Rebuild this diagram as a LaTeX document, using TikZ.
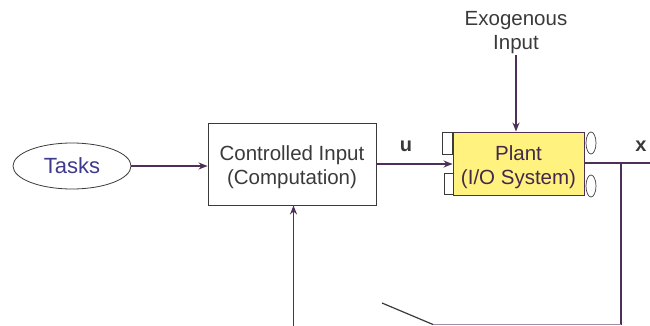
\documentclass[tikz,border=0pt]{standalone}
\usepackage{fontspec}
\setmainfont{Liberation Sans}
\usetikzlibrary{shapes.geometric,arrows.meta}
\definecolor{wire}{HTML}{4E2F58}
\definecolor{frame}{HTML}{3A3A3A}
\definecolor{txt}{HTML}{3A3A3A}
\definecolor{taskblue}{HTML}{3E3A8E}
\definecolor{plantfill}{HTML}{FFF27E}
\definecolor{pale}{HTML}{A08CA8}
\tikzset{
  sig/.style={draw=wire, line width=1.4pt, -{Stealth[length=9pt,width=7pt]}},
  line/.style={draw=wire, line width=1.4pt},
  blockbox/.style={draw=frame, line width=0.9pt, align=center, font=\fontsize{20.5}{24}\selectfont, text=txt, inner sep=0pt},
  port/.style={draw=frame, line width=0.7pt, fill=white, inner sep=0pt},
  lbl/.style={font=\fontsize{20.5}{24}\selectfont, text=txt, align=center, inner sep=0pt},
}
\begin{document}
\begin{tikzpicture}[x=1pt,y=-1pt]
\useasboundingbox (0,0) rectangle (650,326);

% blocks
\node[draw=frame, line width=0.8pt, ellipse, minimum width=118pt, minimum height=46pt, inner sep=0pt,
      font=\fontsize{22}{24}\selectfont, text=taskblue] (tasks) at (72,166) {Tasks};
\node[blockbox, minimum width=168pt, minimum height=82pt] (ctrl) at (292,164)
  {\rule{0pt}{22pt}Controlled Input\\(Computation)};
\node[blockbox, fill=plantfill, draw=wire, minimum width=131pt, minimum height=63pt, text=wire!85!black] (plant) at (518.5,163.5)
  {\rule{0pt}{22pt}Plant\\(I/O System)};

% ports on the plant
\node[port, minimum width=10pt, minimum height=22pt] (inA) at (447.5,143) {};
\node[port, minimum width=9pt, minimum height=21pt] (inB) at (448.5,183.5) {};
\node[port, ellipse, minimum width=10pt, minimum height=22pt] (outA) at (591,143) {};
\node[port, ellipse, minimum width=10pt, minimum height=22pt] (outB) at (591,186) {};

% labels
\node[lbl] (exo) at (516,33) {Exogenous\\Input};
\node[lbl, font=\fontsize{20}{24}\selectfont\bfseries] (ulbl) at (406,146) {u};
\node[lbl, font=\fontsize{20}{24}\selectfont\bfseries] (xlbl) at (641,146) {x};

% signal paths
\coordinate (exoend) at (516,55);
\coordinate (xout) at (650,163);
\coordinate (tap) at (621,163);
\coordinate (corner) at (621,324.5);
\coordinate (swend) at (433,324.5);
\coordinate (swtip) at (382,303);
\coordinate (fbstart) at (293.5,326);

\draw[sig] (tasks.east) -- (ctrl.west |- tasks.east);
\draw[sig] (ctrl.east |- 0,164) -- (plant.west |- 0,164);
\draw[sig] (exoend) -- (plant.north -| exoend);
\draw[line] (plant.east |- xout) -- (xout);
\draw[line] (tap) -- (corner);
\draw[draw=pale, line width=1.2pt] (corner) -- (swend);
\draw[draw=frame, line width=1.2pt] (swtip) -- (swend);
\draw[sig] (fbstart) -- (fbstart |- ctrl.south);
\end{tikzpicture}
\end{document}
